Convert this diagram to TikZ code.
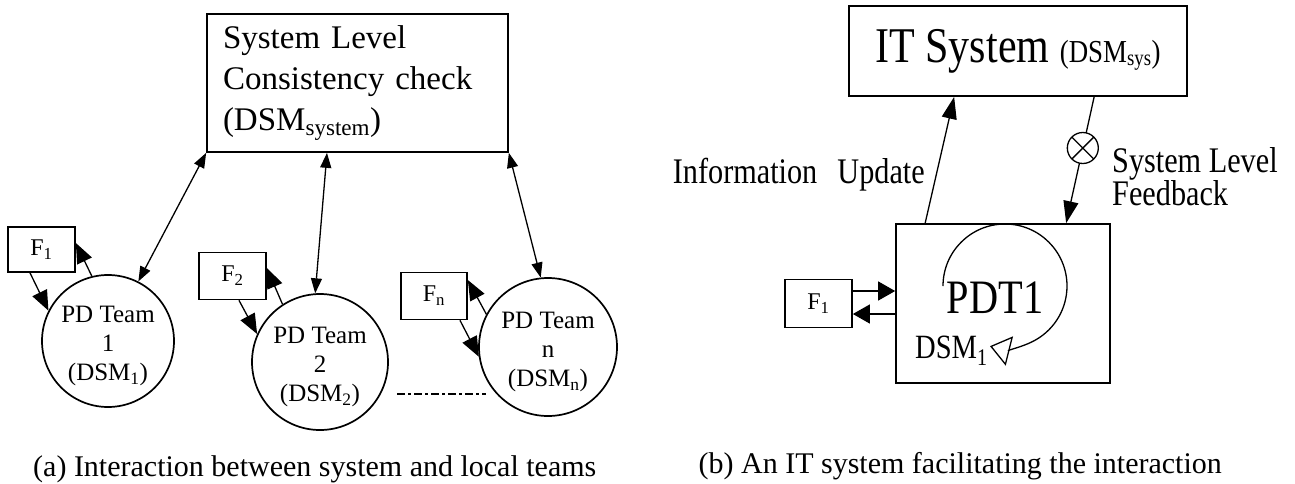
\documentclass[tikz,border=0pt]{standalone}
\usepackage{fontspec}
\setmainfont{Liberation Serif}
\newfontfamily\narrowserif[FakeStretch=0.84]{Liberation Serif}
\usetikzlibrary{arrows.meta,calc}
\newcommand\fs[2]{\fontsize{#1}{#2}\selectfont}
% strut that pushes a team label a little below the circle centre
\newcommand\teamstrut{\rule{0pt}{27pt}}

\begin{document}
\begin{tikzpicture}[x=1pt, y=-1pt,
  box/.style={draw, line width=1.7pt, inner sep=0pt},
  team/.style={draw, circle, line width=1.7pt, inner sep=0pt, align=center, font=\fs{25}{29}},
  fbox/.style={box, minimum width=67pt, minimum height=47pt, font=\fs{24}{28}},
  biarrow/.style={line width=1.3pt, arrows={Triangle[length=15pt,width=11pt]-Triangle[length=15pt,width=11pt]}},
  farrow/.style={line width=1.3pt, arrows={-Triangle[length=20pt,width=16pt]}},
  rarrow/.style={line width=1.3pt, arrows={-Triangle[length=22pt,width=15pt]}},
  harrow/.style={line width=1.3pt, arrows={-Triangle[length=17pt,width=19pt]}},
  cyclearrow/.style={line width=1.3pt, arrows={-Triangle[open,length=20pt,width=30pt]}},
  dashdot/.style={line width=1.3pt, dash pattern=on 8pt off 3pt on 3pt off 3pt},
  crossdot/.style={circle, draw, fill=white, line width=1.3pt, minimum size=31pt, inner sep=0pt,
    path picture={\draw[arrows=-, line width=1.3pt]
      (path picture bounding box.north west) -- (path picture bounding box.south east)
      (path picture bounding box.north east) -- (path picture bounding box.south west);}},
  lbl/.style={inner sep=0pt}]

\path[use as bounding box, fill=white] (0,0) rectangle (1295,483);

% ---------- (a) system and local teams ----------
\node[box, text width=269pt, inner xsep=16pt, minimum height=138pt, align=left,
      font=\fs{33}{41}] (sys) at (357.5,83)
  {System Level\\Consistency check\\(DSM\textsubscript{system})};

\node[team, minimum size=132pt] (c1) at (108,341) {\teamstrut PD Team\\1\\(DSM\textsubscript{1})};
\node[team, minimum size=136pt] (c2) at (320,362) {\teamstrut PD Team\\2\\(DSM\textsubscript{2})};
\node[team, minimum size=138pt] (cn) at (548,347) {\teamstrut PD Team\\n\\(DSM\textsubscript{n})};

\node[fbox, minimum height=45pt] (f1) at (41.5,249.5) {F\textsubscript{1}};
\node[fbox] (f2) at (232.5,276) {F\textsubscript{2}};
\node[fbox, minimum width=66pt] (fn) at (434,296) {F\textsubscript{n}};

\draw[biarrow] (sys.south west) -- (c1.63);
\draw[biarrow] ([xshift=-30.5pt]sys.south) -- (c2.94);
\draw[biarrow] (sys.south east) -- (cn.96);

\draw[farrow] ([xshift=-11.5pt]f1.south) -- (c1.153);
\draw[farrow] (c1.104) -- ([yshift=6.5pt]f1.east);
\draw[farrow] ([xshift=6.5pt]f2.south) -- (c2.156);
\draw[farrow] (c2.123) -- ([yshift=8pt]f2.east);
\draw[farrow] ([xshift=26pt]fn.south) -- (cn.188);
\draw[farrow] (cn.152) -- ([yshift=16pt]fn.east);

\coordinate (dl) at (397,394);
\coordinate (dr) at (486,394);
\draw[dashdot] (dl) -- (dr);

\node[lbl, anchor=base west, font=\fs{30}{30}] (capa) at (33,476)
  {(a) Interaction between system and local teams};

% ---------- (b) IT system ----------
\node[box, minimum width=338pt, minimum height=90pt] (it) at (1018,51)
  {\narrowserif\fs{50}{50}IT System \fs{32}{32}(DSM\textsubscript{sys})};

\node[box, minimum width=214pt, minimum height=159pt] (pdt) at (1003,303.5) {};
\node[lbl, anchor=base, font=\narrowserif\fs{48}{48}] (pdtname) at (995,313) {PDT1};
\node[lbl, anchor=base west, font=\narrowserif\fs{34}{34}] (pdtdsm) at (915,358) {DSM\textsubscript{1}};
\draw[cyclearrow] ([shift={(-60pt,17.5pt)}]pdt.center)
  arc[start angle=180, end angle=-104, radius=62pt];

\node[fbox, minimum height=48pt] (fr) at (818.5,303.5) {F\textsubscript{1}};
\draw[harrow] ([yshift=12.5pt]fr.east) -- ([yshift=12.5pt]pdt.west);
\draw[harrow] ([yshift=-10.5pt]pdt.west) -- ([yshift=-10.5pt]fr.east);

\draw[rarrow] ([xshift=30pt]pdt.north west) -- ([xshift=106pt]it.south west);
\draw[rarrow] ([xshift=246pt]it.south west) -- ([xshift=171pt]pdt.north west)
  node[crossdot, pos=0.405] (fb) {};

\node[lbl, anchor=base east, font=\narrowserif\fs{36}{36}] (upd) at (925,183)
  {Information\hspace{0.35em} Update};
\node[lbl, anchor=base west, font=\narrowserif\fs{36}{36}] (fbl1) at (1112,172) {System Level};
\node[lbl, anchor=base west, font=\narrowserif\fs{36}{36}] (fbl2) at (1112,205) {Feedback};

\node[lbl, anchor=base east, font=\fs{30}{30}] (capb) at (1222,473)
  {(b) An IT system facilitating the interaction};
\end{tikzpicture}
\end{document}
